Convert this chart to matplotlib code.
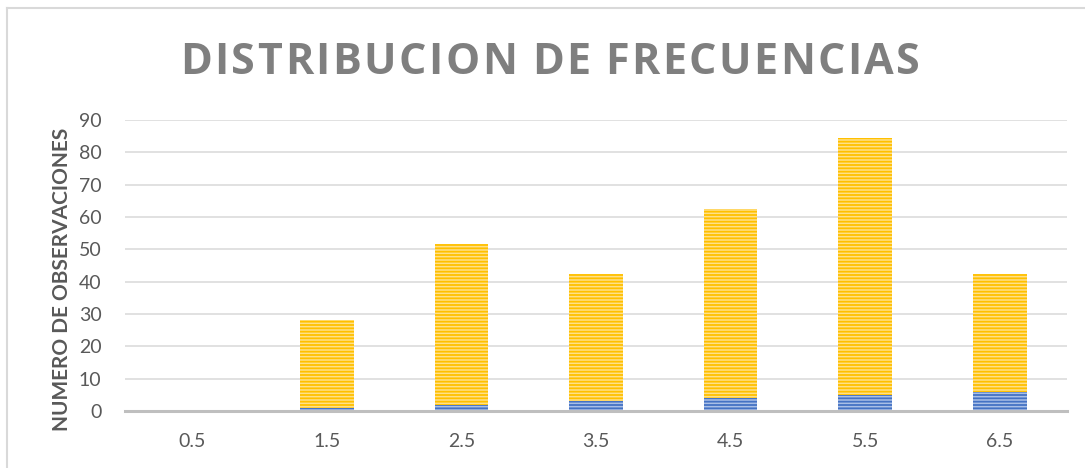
import matplotlib
matplotlib.use("Agg")
import matplotlib.pyplot as plt
import numpy as np

# ── Data ───────────────────────────────────────────────────────────────────────
categories = ["0.5", "1.5", "2.5", "3.5", "4.5", "5.5", "6.5"]
blue_vals = [0, 1, 2, 3, 4, 5, 6]
yellow_vals = [0, 27, 49.5, 39.5, 58.5, 79.5, 36.5]
y_ticks = [0, 10, 20, 30, 40, 50, 60, 70, 80, 90]

title = "DISTRIBUCION DE FRECUENCIAS"
ylabel = "NUMERO DE OBSERVACIONES"

GRAY_TXT = "#595959"
plt.rcParams["font.family"] = ["Lato", "DejaVu Sans"]
plt.rcParams["hatch.linewidth"] = 1.3

fig = plt.figure(figsize=(10.85, 4.68), dpi=100)
ax = fig.add_axes([125 / 1085, 1 - 411 / 468, 942 / 1085, 291 / 468])

x = np.arange(len(categories))
ax.bar(x, blue_vals, width=0.4, color="#a9bfe6", edgecolor="#4472c4",
       hatch="-----", linewidth=0, zorder=3)
ax.bar(x, yellow_vals, width=0.4, bottom=blue_vals, color="#ffe089",
       edgecolor="#ffc000", hatch="-----", linewidth=0, zorder=3)

ax.set_xlim(-0.5, len(categories) - 0.5)
ax.set_ylim(0, 90)
ax.set_yticks(y_ticks)
ax.set_xticks(x)
ax.set_xticklabels(categories)
ax.tick_params(axis="both", length=0, labelsize=14, labelcolor=GRAY_TXT)
ax.tick_params(axis="y", pad=17)
ax.tick_params(axis="x", pad=16)
ax.grid(axis="y", color="#d9d9d9", linewidth=1.1, zorder=0)
for s in ["left", "right", "top"]:
    ax.spines[s].set_visible(False)
ax.spines["bottom"].set_color("#bfbfbf")
ax.spines["bottom"].set_linewidth(2.2)
ax.spines["bottom"].set_zorder(4)

fig.text(62 / 1085, 1 - 279 / 468, ylabel, rotation=90, ha="center", va="center",
         fontsize=15, fontweight="bold", color=GRAY_TXT)

# outer chart border (only left and top visible in the frame)
fig.add_artist(plt.Line2D([7 / 1085, 7 / 1085], [0, 1 - 8 / 468], transform=fig.transFigure,
                          color="#d9d9d9", linewidth=1.5))
fig.add_artist(plt.Line2D([7 / 1085, 1], [1 - 8 / 468, 1 - 8 / 468], transform=fig.transFigure,
                          color="#d9d9d9", linewidth=1.5))

# ── Letter-spaced title ────────────────────────────────────────────────────────
renderer = fig.canvas.get_renderer()
x0, x1 = 180, 920
ty = 1 - 62 / 468
kw = dict(fontsize=31, fontweight="bold", color="#7f7f7f", va="center", ha="left",
          family=["Open Sans", "DejaVu Sans"])
widths = []
for ch in title:
    t = fig.text(0, 0, ch if ch != " " else "I", **kw)
    w = t.get_window_extent(renderer).width
    if ch == " ":
        w *= 0.7
    widths.append(w)
    t.remove()
track = (x1 - x0 - sum(widths)) / (len(title) - 1)
pos = x0
for ch, w in zip(title, widths):
    if ch != " ":
        fig.text(pos / 1085, ty, ch, **kw)
    pos += w + track

fig.savefig("out.png", dpi=100)
